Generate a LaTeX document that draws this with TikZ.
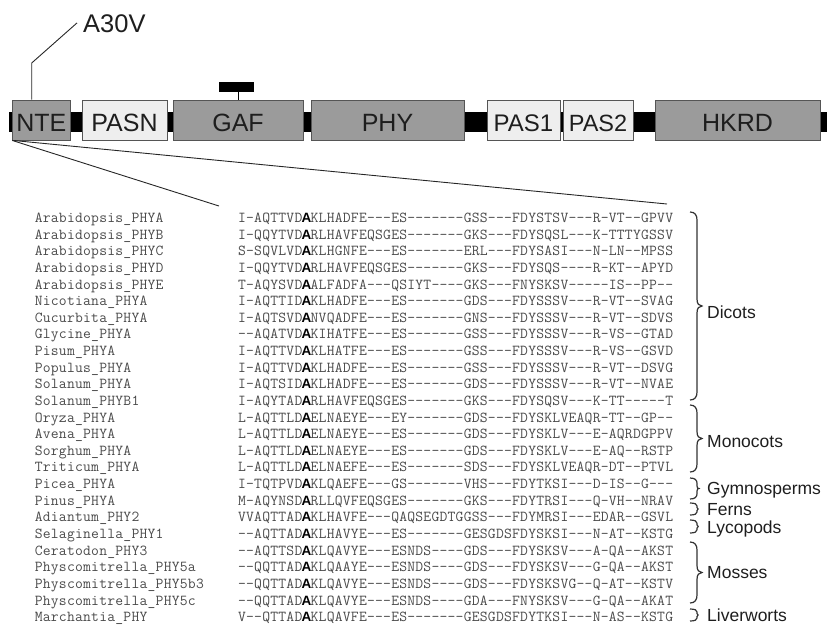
\documentclass[tikz,border=0pt]{standalone}
\usepackage{fontspec}
\setsansfont{Liberation Sans}
\newfontfamily\boldsans{Liberation Sans}
\definecolor{domgray}{HTML}{9B9B9B}
\definecolor{domlight}{HTML}{EEEEEE}
\definecolor{domedge}{HTML}{555555}
\definecolor{seqgray}{HTML}{4A4A4A}
\definecolor{inkdark}{HTML}{1E1E1E}
\newlength\cw
\setlength\cw{8.06pt}
\newcommand\seqch[1]{\makebox[\cw][c]{#1}}
\def\sq#1{\sqi#1\relax}
\def\sqi#1{\ifx\relax#1\else\seqch{#1}\expandafter\sqi\fi}
\newcommand\bA{\seqch{\textcolor{black}{\boldsans\bfseries\fontsize{13.5}{13.5}\selectfont A}}}
\tikzset{
  dombox/.style={draw=domedge, line width=0.9pt, minimum height=40pt, inner sep=0pt,
    text height=22pt, text depth=0pt, text=inkdark,
    font=\sffamily\fontsize{25}{25}\selectfont},
  darkdom/.style={dombox, fill=domgray},
  lightdom/.style={dombox, fill=domlight},
  seqtext/.style={anchor=base west, inner sep=0pt, text=seqgray,
    font=\ttfamily\fontsize{15.2}{15.2}\selectfont},
  grplabel/.style={anchor=base west, inner sep=0pt, text=inkdark,
    font=\sffamily\fontsize{17.5}{17.5}\selectfont},
  bracestyle/.style={draw=black!80, line width=1.2pt},
  leader/.style={draw=black!85, line width=0.9pt}
}
\newcommand\seqrow[4]{%
  \pgfmathsetmacro\rowy{222.5+16.63*#1}%
  \node[seqtext] (n#1) at (34.5,\rowy) {\sq{#2}};
  \node[seqtext] (s#1) at (237.8,\rowy) {\sq{#3}\bA\sq{#4}};
}
\newcommand\grpbrace[2]{%
  \pgfmathsetmacro\gbt{#1}%
  \pgfmathsetmacro\gbb{#2}%
  \pgfmathsetmacro\gbm{(#1+#2)/2}%
  \pgfmathsetmacro\gbr{min(8,(#2-#1)/4)}%
  \pgfmathsetmacro\gbq{min(7,(#2-#1)/8)}%
  \pgfmathsetmacro\gbx{697+min(5,(#2-#1)/11)}%
  \pgfmathsetmacro\gbxa{697+0.4*min(5,(#2-#1)/11)}%
  \pgfmathsetmacro\gbta{\gbt+0.4*\gbr}%
  \pgfmathsetmacro\gbtb{\gbt+\gbr}%
  \pgfmathsetmacro\gbma{\gbm-\gbq}%
  \pgfmathsetmacro\gbmb{\gbm-0.3*\gbq}%
  \pgfmathsetmacro\gbmc{\gbm+0.3*\gbq}%
  \pgfmathsetmacro\gbmd{\gbm+\gbq}%
  \pgfmathsetmacro\gbba{\gbb-\gbr}%
  \pgfmathsetmacro\gbbb{\gbb-0.4*\gbr}%
  \draw[bracestyle] (690,\gbt) .. controls (695,\gbt) and (697,\gbta) .. (697,\gbtb)
    -- (697,\gbma) .. controls (697,\gbmb) and (\gbxa,\gbm) .. (\gbx,\gbm)
    .. controls (\gbxa,\gbm) and (697,\gbmc) .. (697,\gbmd)
    -- (697,\gbba) .. controls (697,\gbbb) and (695,\gbb) .. (690,\gbb);
}
\begin{document}
\begin{tikzpicture}[x=1pt,y=-1pt]
\useasboundingbox (0,0) rectangle (827,627);
% backbone
\fill[black] (9,112) rectangle (830,132);
% domains
\node[darkdom, minimum width=57.3pt] (NTE) at (41.35,120) {NTE};
\node[lightdom, minimum width=85pt] (PASN) at (124.5,120) {PASN};
\node[darkdom, minimum width=130pt] (GAF) at (238,120) {GAF};
\node[darkdom, minimum width=153pt] (PHY) at (387.5,120) {PHY};
\node[lightdom, minimum width=73pt, font=\sffamily\fontsize{24}{24}\selectfont] (PAS1) at (523.5,120) {PAS1};
\node[lightdom, minimum width=70pt, font=\sffamily\fontsize{23.5}{23.5}\selectfont] (PAS2) at (598,120) {PAS2};
\node[darkdom, minimum width=165pt] (HKRD) at (737.5,120) {HKRD};
% chromophore marker on GAF
\node[fill=black, minimum width=35pt, minimum height=10pt, inner sep=0pt] (chrom) at (236.5,87) {};
\draw[line width=1.5pt] (chrom.south -| 238.7,0) -- (GAF.north -| 238.7,0);
% A30V label
\node[anchor=base west, inner sep=0pt, text=inkdark, font=\sffamily\fontsize{25.5}{25.5}\selectfont] (a30v) at (83,32.7) {A30V};
\coordinate (knee) at (31.7,63);
\draw[leader] (knee |- NTE.north) -- (knee) -- ([xshift=-6pt,yshift=1pt]a30v.west);
% zoom lines
\coordinate (zl) at (219,206);
\coordinate (zr) at (667,204);
\draw[leader] (NTE.south west) -- (zl);
\draw[leader] ([xshift=1pt]NTE.south west) -- (zr);
% alignment
\seqrow{0}{Arabidopsis\_PHYA}{I-AQTTVD}{KLHADFE---ES-------GSS---FDYSTSV---R-VT--GPVV}
\seqrow{1}{Arabidopsis\_PHYB}{I-QQYTVD}{RLHAVFEQSGES-------GKS---FDYSQSL---K-TTTYGSSV}
\seqrow{2}{Arabidopsis\_PHYC}{S-SQVLVD}{KLHGNFE---ES-------ERL---FDYSASI---N-LN--MPSS}
\seqrow{3}{Arabidopsis\_PHYD}{I-QQYTVD}{RLHAVFEQSGES-------GKS---FDYSQS----R-KT--APYD}
\seqrow{4}{Arabidopsis\_PHYE}{T-AQYSVD}{ALFADFA---QSIYT----GKS---FNYSKSV-----IS--PP--}
\seqrow{5}{Nicotiana\_PHYA}{I-AQTTID}{KLHADFE---ES-------GDS---FDYSSSV---R-VT--SVAG}
\seqrow{6}{Cucurbita\_PHYA}{I-AQTSVD}{NVQADFE---ES-------GNS---FDYSSSV---R-VT--SDVS}
\seqrow{7}{Glycine\_PHYA}{--AQATVD}{KIHATFE---ES-------GSS---FDYSSSV---R-VS--GTAD}
\seqrow{8}{Pisum\_PHYA}{I-AQTTVD}{KLHATFE---ES-------GSS---FDYSSSV---R-VS--GSVD}
\seqrow{9}{Populus\_PHYA}{I-AQTTVD}{KLHADFE---ES-------GSS---FDYSSSV---R-VT--DSVG}
\seqrow{10}{Solanum\_PHYA}{I-AQTSID}{KLHADFE---ES-------GDS---FDYSSSV---R-VT--NVAE}
\seqrow{11}{Solanum\_PHYB1}{I-AQYTAD}{RLHAVFEQSGES-------GKS---FDYSQSV---K-TT-----T}
\seqrow{12}{Oryza\_PHYA}{L-AQTTLD}{ELNAEYE---EY-------GDS---FDYSKLVEAQR-TT--GP--}
\seqrow{13}{Avena\_PHYA}{L-AQTTLD}{ELNAEYE---ES-------GDS---FDYSKLV---E-AQRDGPPV}
\seqrow{14}{Sorghum\_PHYA}{L-AQTTLD}{ELNAEYE---ES-------GDS---FDYSKLV---E-AQ--RSTP}
\seqrow{15}{Triticum\_PHYA}{L-AQTTLD}{ELNAEFE---ES-------SDS---FDYSKLVEAQR-DT--PTVL}
\seqrow{16}{Picea\_PHYA}{I-TQTPVD}{KLQAEFE---GS-------VHS---FDYTKSI---D-IS--G---}
\seqrow{17}{Pinus\_PHYA}{M-AQYNSD}{RLLQVFEQSGES-------GKS---FDYTRSI---Q-VH--NRAV}
\seqrow{18}{Adiantum\_PHY2}{VVAQTTAD}{KLHAVFE---QAQSEGDTGGSS---FDYMRSI---EDAR--GSVL}
\seqrow{19}{Selaginella\_PHY1}{--AQTTAD}{KLHAVYE---ES-------GESGDSFDYSKSI---N-AT--KSTG}
\seqrow{20}{Ceratodon\_PHY3}{--AQTTSD}{KLQAVYE---ESNDS----GDS---FDYSKSV---A-QA--AKST}
\seqrow{21}{Physcomitrella\_PHY5a}{--QQTTAD}{KLQAAYE---ESNDS----GDS---FDYSKSV---G-QA--AKST}
\seqrow{22}{Physcomitrella\_PHY5b3}{--QQTTAD}{KLQAVYE---ESNDS----GDS---FDYSKSVG--Q-AT--KSTV}
\seqrow{23}{Physcomitrella\_PHY5c}{--QQTTAD}{KLQAVYE---ESNDS----GDA---FNYSKSV---G-QA--AKAT}
\seqrow{24}{Marchantia\_PHY}{V--QTTAD}{KLQAVFE---ES-------GESGDSFDYTKSI---N-AS--KSTG}
% groups
\grpbrace{212}{400}
\grpbrace{405}{472}
\grpbrace{478}{499}
\grpbrace{503}{515}
\grpbrace{520}{533}
\grpbrace{542}{603}
\grpbrace{609}{621}
\node[grplabel] (dicots) at (707,318) {Dicots};
\node[grplabel] (monocots) at (707,447) {Monocots};
\node[grplabel] (gymno) at (707,494.5) {Gymnosperms};
\node[grplabel] (ferns) at (707,515.5) {Ferns};
\node[grplabel] (lyco) at (707,533) {Lycopods};
\node[grplabel] (mosses) at (707,578) {Mosses};
\node[grplabel] (liver) at (707,621.5) {Liverworts};
\end{tikzpicture}
\end{document}
